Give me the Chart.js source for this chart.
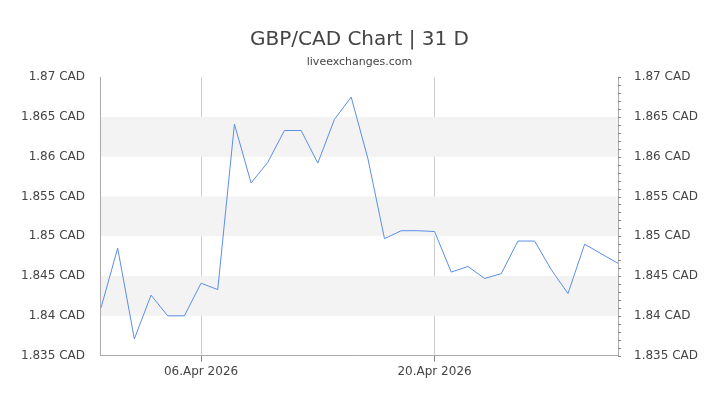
<!DOCTYPE html>
<html>
<head>
<meta charset="utf-8">
<script src="https://cdn.jsdelivr.net/npm/chart.js@4/dist/chart.umd.min.js"></script>
<style>
  body { margin: 0; background: #fff; }
  #wrap { width: 720px; height: 405px; }
</style>
</head>
<body>
<div id="wrap"><canvas id="c" width="720" height="405"></canvas></div>
<script>
// 32 daily points, 31 days
const dayLabels = [
  '31.Mar', '01.Apr', '02.Apr', '03.Apr', '04.Apr', '05.Apr', '06.Apr', '07.Apr',
  '08.Apr', '09.Apr', '10.Apr', '11.Apr', '12.Apr', '13.Apr', '14.Apr', '15.Apr',
  '16.Apr', '17.Apr', '18.Apr', '19.Apr', '20.Apr', '21.Apr', '22.Apr', '23.Apr',
  '24.Apr', '25.Apr', '26.Apr', '27.Apr', '28.Apr', '29.Apr', '30.Apr', '01.May'
];
const rates = [
  1.8410, 1.8485, 1.8371, 1.8426, 1.8400, 1.8400, 1.8441, 1.8433,
  1.8641, 1.8567, 1.8593, 1.8633, 1.8633, 1.8592, 1.8647, 1.8675,
  1.8598, 1.8497, 1.8507, 1.8507, 1.8506, 1.8455, 1.8462, 1.8447,
  1.8453, 1.8494, 1.8494, 1.8458, 1.8428, 1.8490, 1.8478, 1.8466
];
const shownTicks = { 6: '06.Apr 2026', 20: '20.Apr 2026' };
const bands = [[1.84, 1.845], [1.85, 1.855], [1.86, 1.865]];

// grey stripes behind the line
const bandPlugin = {
  id: 'bands',
  beforeDatasetsDraw(chart) {
    const { ctx, chartArea, scales } = chart;
    ctx.save();
    ctx.fillStyle = '#f3f3f3';
    bands.forEach(([lo, hi]) => {
      const y1 = scales.y.getPixelForValue(hi);
      const y2 = scales.y.getPixelForValue(lo);
      ctx.fillRect(chartArea.left, y1, chartArea.right - chartArea.left, y2 - y1);
    });
    // minor ticks on right axis
    ctx.strokeStyle = '#888';
    ctx.lineWidth = 1;
    for (let v = 1.835; v <= 1.8701; v += 0.001) {
      const y = Math.round(scales.y.getPixelForValue(v)) + 0.5;
      ctx.beginPath();
      ctx.moveTo(chartArea.right, y);
      ctx.lineTo(chartArea.right + 3, y);
      ctx.stroke();
    }
    ctx.restore();
  }
};

const fmt = v => (+v.toFixed(3)).toString() + ' CAD';

new Chart(document.getElementById('c'), {
  type: 'line',
  data: {
    labels: dayLabels,
    datasets: [{
      data: rates,
      borderColor: '#5b8ee6',
      borderWidth: 1,
      pointRadius: 0,
      tension: 0,
      fill: false
    }]
  },
  options: {
    responsive: false,
    animation: false,
    layout: { padding: { left: 13, right: 14, top: 0, bottom: 23 } },
    plugins: {
      legend: { display: false },
      tooltip: { enabled: false },
      title: {
        display: true, text: 'GBP/CAD Chart | 31 D', color: '#444',
        font: { family: 'DejaVu Sans', size: 20, weight: 'normal' },
        padding: { top: 28, bottom: 4 }
      },
      subtitle: {
        display: true, text: 'liveexchanges.com', color: '#444',
        font: { family: 'DejaVu Sans', size: 11 },
        padding: { bottom: 8 }
      }
    },
    scales: {
      x: {
        offset: false,
        border: { color: '#aaa' },
        grid: {
          color: c => shownTicks[c.index] ? '#ccc' : 'transparent',
          tickColor: c => shownTicks[c.index] ? '#888' : 'transparent',
          tickLength: 6
        },
        ticks: {
          autoSkip: false, maxRotation: 0, color: '#444',
          font: { family: 'DejaVu Sans', size: 12 },
          callback: (v, i) => shownTicks[i] || ''
        }
      },
      y: {
        min: 1.835, max: 1.87,
        border: { color: '#aaa' },
        grid: { display: false, drawTicks: true },
        ticks: {
          stepSize: 0.005, color: '#444', padding: 8,
          font: { family: 'DejaVu Sans', size: 12 },
          callback: fmt
        }
      },
      y2: {
        position: 'right', min: 1.835, max: 1.87,
        border: { color: '#aaa' },
        grid: { display: false },
        ticks: {
          stepSize: 0.005, color: '#444', padding: 8,
          font: { family: 'DejaVu Sans', size: 12 },
          callback: fmt
        }
      }
    }
  },
  plugins: [bandPlugin]
});
</script>
</body>
</html>
